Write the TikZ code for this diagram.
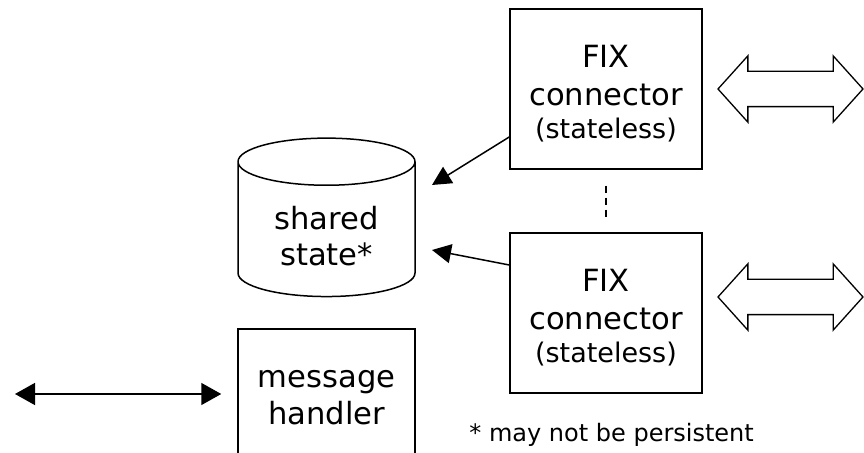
\documentclass[tikz,border=0pt]{standalone}
\usepackage{fontspec}
\setmainfont{DejaVu Sans}
\usetikzlibrary{arrows.meta,shapes.geometric,shapes.arrows}

\tikzset{
  box/.style={draw, line width=0.75pt, minimum width=96pt, minimum height=80pt,
    inner sep=0pt, align=center, font=\fontsize{15.3}{19}\selectfont},
  wire/.style={double arrow, draw, line width=0.65pt, inner sep=8.5pt,
    minimum height=72.5pt, minimum width=32.5pt,
    double arrow head extend=7.75pt, double arrow tip angle=96},
  link/.style={-{Triangle[length=9.5pt,width=9.5pt]}, line width=0.75pt},
  biway/.style={{Triangle[length=10pt,width=11pt]}-{Triangle[length=10pt,width=11pt]}, line width=0.75pt}
}

\begin{document}
\begin{tikzpicture}[x=0.5pt,y=-0.5pt]
  \clip (0,0) rectangle (864,453);

  \node[box] (fixA) at (606,89)
    {\rule{0pt}{16pt}FIX\\connector\\[-2.5pt]{\fontsize{13.5}{16}\selectfont(stateless)}};
  \node[box] (fixB) at (606,313)
    {\rule{0pt}{16pt}FIX\\connector\\[-2.5pt]{\fontsize{13.5}{16}\selectfont(stateless)}};
  \node[wire] (wireA) at (790.5,89) {};
  \node[wire] (wireB) at (790.5,297) {};

  \node[cylinder, draw, line width=0.75pt, shape border rotate=90, aspect=0.452,
    minimum height=70pt, minimum width=88.5pt, inner sep=0pt, align=center,
    font=\fontsize{15.3}{18}\selectfont] (state) at (326.5,229.5)
    {\rule{0pt}{22pt}shared\\state*\rule[-3.5pt]{0pt}{3.5pt}};

  \node[box, minimum width=88.5pt, minimum height=69pt,
    font=\fontsize{15.3}{18.5}\selectfont] (handler) at (326.5,398) {message\\handler};
  \coordinate (msgout) at (15,394);

  \node[anchor=base west, inner sep=0pt, font=\fontsize{12}{14}\selectfont] (note)
    at (469,442) {* may not be persistent};

  % connectors
  \draw[link] ([yshift=-24pt]fixA.west) -- ([xshift=52.75pt,yshift=22.25pt]state.center);
  \draw[link] ([yshift=24pt]fixB.west) -- ([xshift=52.75pt,yshift=-10.25pt]state.center);
  \draw[dashed, dash pattern=on 3.5pt off 2.5pt, line width=0.75pt,
    shorten <=8pt, shorten >=7.5pt] (fixA) -- (fixB);
  \draw[biway, shorten >=8pt] (msgout) -- (handler.west |- msgout);
\end{tikzpicture}
\end{document}
